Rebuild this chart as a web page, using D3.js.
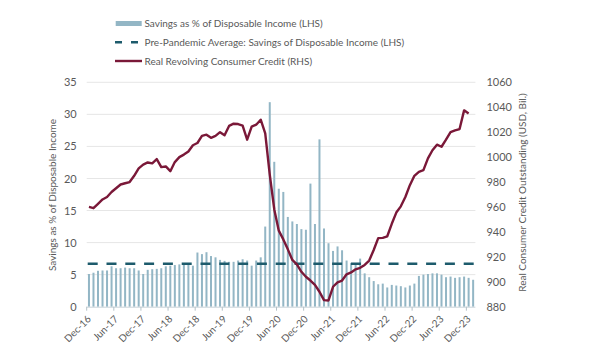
<!DOCTYPE html>
<html><head><meta charset="utf-8">
<script src="https://cdn.jsdelivr.net/npm/d3@7"></script>
<style>
body{margin:0;background:#fff}
svg{display:block}
text{font-family:Lato,"Open Sans",sans-serif;fill:#595959}
</style>
</head><body>
<svg id="chart" width="593" height="363"></svg>
<script>
// ---- data ----
const fmtMonth = d3.timeFormat("%b-%y");
const categories = d3.timeMonth.range(new Date(2016, 11, 1), new Date(2024, 1, 1)).map(fmtMonth); // Dec-16 .. Jan-24
const tickLabels = ["Dec-16","Jun-17","Dec-17","Jun-18","Dec-18","Jun-19","Dec-19","Jun-20","Dec-20","Jun-21","Dec-21","Jun-22","Dec-22","Jun-23","Dec-23"];
const savingsRate = [
  5.1,5.3,5.6,5.65,5.65,6.3,6.0,6.0,6.1,6.0,6.0,5.65,
  5.1,5.75,5.85,5.9,6.0,6.3,6.4,6.5,6.6,6.6,6.6,6.4,
  8.45,8.2,8.5,7.9,7.7,7.3,7.15,7.0,7.0,7.2,7.4,7.2,
  6.4,7.2,7.7,12.5,31.9,22.6,18.4,17.9,14.0,13.3,12.9,12.1,
  12.0,19.2,12.9,26.1,12.2,9.9,8.7,9.4,8.8,7.2,6.8,6.7,
  7.5,5.2,4.6,4.0,3.5,3.6,3.0,3.4,3.3,3.2,3.0,3.3,
  3.6,4.8,5.0,5.1,5.2,5.2,5.0,4.6,4.7,4.5,4.6,4.7,
  4.5,4.2
];
const revolvingCredit = [
  960,959,962.5,966,968,972,975,978,979,980,985,991,
  994,995.7,995,998.4,992,992.5,988.7,996,1000,1002,1004.5,1009.5,
  1011.3,1017,1018,1015.5,1017,1020,1017.5,1025,1026.8,1026.5,1025.3,1014,
  1024.5,1026,1030,1019,986,958,941,934,926,917.5,914,908,
  904,901,897.5,892,885.3,885,896,899.5,901,906,907.5,910,
  911.2,913.5,917,925.5,935,935.2,936.5,946.5,955.5,960.5,968,977.5,
  985,988.2,989.5,999,1005.5,1010,1008.3,1014,1020,1021.4,1022.5,1037.5,
  1035
];
const preAvgSavings = 6.7;
const leftTicks = [0,5,10,15,20,25,30,35];
const rightTicks = [880,900,920,940,960,980,1000,1020,1040,1060];
const legendLabels = [
  "Savings as % of Disposable Income (LHS)",
  "Pre-Pandemic Average: Savings of Disposable Income (LHS)",
  "Real Revolving Consumer Credit (RHS)"
];

// ---- styles ----
const barColor = "#93b6c5", dashColor = "#1d5b6c", lineColor = "#7a1838";

const svg = d3.select("#chart");
const plot = {l: 86.7, r: 475.4, t: 82.3, b: 306.7};

const x = d3.scaleBand().domain(categories).range([plot.l, plot.r]).padding(0);
const yL = d3.scaleLinear().domain([0, 35]).range([plot.b, plot.t]);
const yR = d3.scaleLinear().domain([880, 1060]).range([plot.b, plot.t]);
const cx = c => x(c) + x.bandwidth() / 2;

// gridlines
svg.append("g").selectAll("line").data(leftTicks.filter(d => d > 0)).join("line")
  .attr("x1", plot.l).attr("x2", plot.r)
  .attr("y1", d => yL(d)).attr("y2", d => yL(d))
  .attr("stroke", "#e6e6e6").attr("stroke-width", 1);

// left axis labels
const leftAxis = d3.axisLeft(yL).tickValues(leftTicks).tickFormat(d3.format("d")).tickSize(0).tickPadding(10);
svg.append("g").attr("transform", `translate(${plot.l},0)`).call(leftAxis)
  .call(g => g.select(".domain").remove())
  .selectAll("text").attr("font-size", 11).style("fill", "#595959");

// right axis labels
const rightAxis = d3.axisRight(yR).tickValues(rightTicks).tickFormat(d3.format("d")).tickSize(0).tickPadding(11);
svg.append("g").attr("transform", `translate(${plot.r},0)`).call(rightAxis)
  .call(g => g.select(".domain").remove())
  .selectAll("text").attr("font-size", 11).style("fill", "#595959");

// bars
const barW = 2;
svg.append("g").selectAll("rect").data(savingsRate).join("rect")
  .attr("x", (d, i) => cx(categories[i]) - barW / 2)
  .attr("width", barW)
  .attr("y", d => yL(d))
  .attr("height", d => yL(0) - yL(d))
  .attr("fill", barColor);

// x axis
const tickCats = categories.filter(c => tickLabels.includes(c));
svg.append("line").attr("x1", plot.l).attr("x2", plot.r)
  .attr("y1", plot.b + 0.5).attr("y2", plot.b + 0.5)
  .attr("stroke", "#c9d3d8").attr("stroke-width", 1);
svg.append("g").selectAll("line").data(tickCats).join("line")
  .attr("x1", d => x(d)).attr("x2", d => x(d))
  .attr("y1", plot.b).attr("y2", plot.b + 4)
  .attr("stroke", "#b5c2c8").attr("stroke-width", 1);
svg.append("g").selectAll("text").data(tickCats).join("text")
  .attr("transform", d => `translate(${x(d) + 5},${plot.b + 13}) rotate(-45)`)
  .attr("text-anchor", "end")
  .attr("font-size", 10)
  .text(d => d);

// pre-pandemic average dashed line
svg.append("line")
  .attr("x1", plot.l + 1).attr("x2", plot.r)
  .attr("y1", yL(preAvgSavings)).attr("y2", yL(preAvgSavings))
  .attr("stroke", dashColor).attr("stroke-width", 2.6)
  .attr("stroke-dasharray", "10,8.8");

// credit line
const line = d3.line().x((d, i) => cx(categories[i])).y(d => yR(d));
svg.append("path").datum(revolvingCredit)
  .attr("d", line).attr("fill", "none")
  .attr("stroke", lineColor).attr("stroke-width", 2.4)
  .attr("stroke-linejoin", "round");

// axis titles
svg.append("text")
  .attr("transform", "translate(56,195) rotate(-90)")
  .attr("text-anchor", "middle").attr("font-size", 10)
  .text("Savings as % of Disposable Income");
svg.append("text")
  .attr("transform", "translate(526,192.5) rotate(-90)")
  .attr("text-anchor", "middle").attr("font-size", 10)
  .text("Real Consumer Credit Outstanding (USD, Bil.)");

// legend
const lg = svg.append("g");
const rows = [23.5, 42.3, 61];
lg.append("rect").attr("x", 115.7).attr("y", rows[0] - 2.5).attr("width", 26).attr("height", 5).attr("fill", barColor);
lg.append("line").attr("x1", 115).attr("x2", 142).attr("y1", rows[1]).attr("y2", rows[1])
  .attr("stroke", dashColor).attr("stroke-width", 2.6).attr("stroke-dasharray", "7,9");
lg.append("line").attr("x1", 115).attr("x2", 142).attr("y1", rows[2]).attr("y2", rows[2])
  .attr("stroke", lineColor).attr("stroke-width", 2.4);
lg.selectAll("text").data(legendLabels).join("text")
  .attr("x", 144.5).attr("y", (d, i) => rows[i]).attr("dy", "0.35em")
  .attr("font-size", 10)
  .text(d => d);
</script>
</body></html>
